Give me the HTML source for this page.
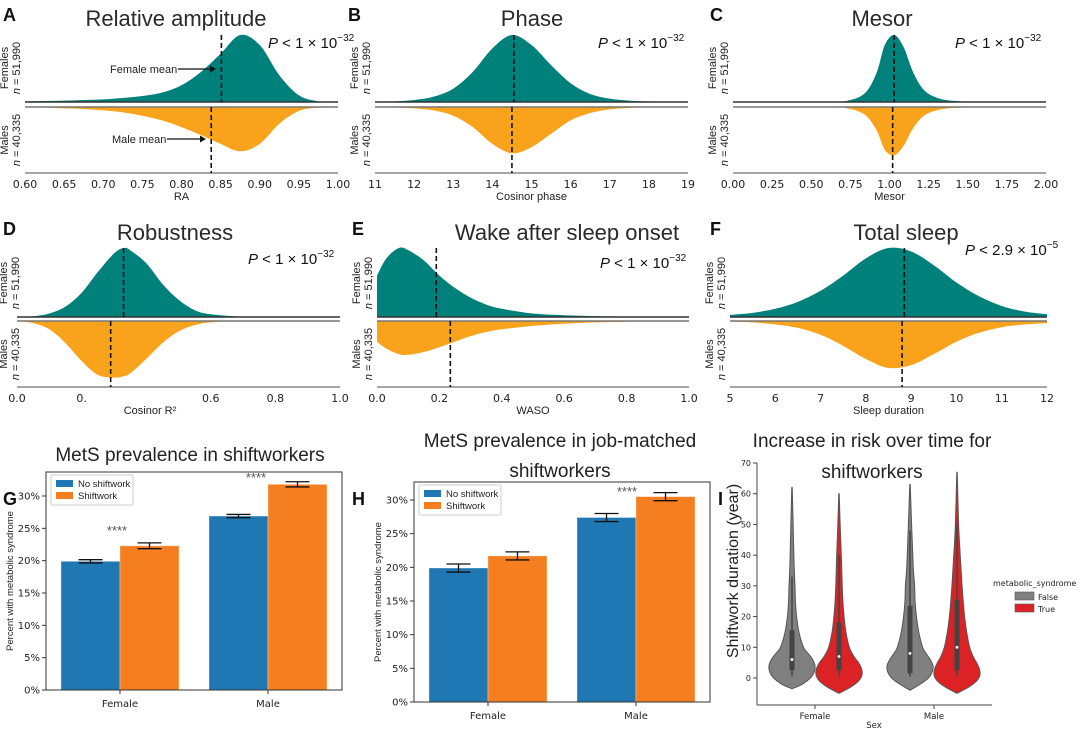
<!DOCTYPE html>
<html><head><meta charset="utf-8">
<style>
html,body{margin:0;padding:0;background:#fff;}
svg{display:block;font-family:"Liberation Sans","DejaVu Sans",sans-serif;}
</style></head>
<body>
<svg id="fig" width="1080" height="730" viewBox="0 0 1080 730" xmlns="http://www.w3.org/2000/svg"></svg>
<script>
// ---------- density data (x grid, female density, male density; relative to female peak) ----------
const aX=[0.60,0.625,0.65,0.675,0.70,0.725,0.75,0.775,0.80,0.825,0.85,0.875,0.90,0.925,0.95,0.975,1.0];
const aF=[0.01,0.015,0.02,0.03,0.04,0.06,0.09,0.14,0.25,0.45,0.72,1.0,0.85,0.4,0.1,0.01,0];
const aM=[0,0.01,0.02,0.03,0.05,0.08,0.13,0.2,0.3,0.42,0.55,0.66,0.55,0.25,0.06,0.01,0];
const aMeans=[0.851,0.838];
const bX=[11,11.5,12,12.5,13,13.5,14,14.5,15,15.5,16,16.5,17,17.5,18,18.5,19];
const bF=[0,0.01,0.03,0.08,0.2,0.45,0.8,1,0.85,0.55,0.28,0.12,0.05,0.02,0.01,0,0];
const bM=[0,0.01,0.02,0.05,0.13,0.3,0.55,0.69,0.6,0.4,0.2,0.09,0.035,0.015,0.005,0,0];
const bMeans=[14.55,14.5];
const cX=[0,0.6,0.75,0.85,0.92,0.97,1.03,1.09,1.15,1.22,1.32,1.45,1.6,2.0];
const cF=[0,0,0.03,0.15,0.45,0.85,1.0,0.82,0.45,0.18,0.05,0.01,0,0];
const cM=[0,0,0.03,0.13,0.36,0.64,0.72,0.58,0.32,0.13,0.04,0.01,0,0];
const cMeans=[1.03,1.02];
const dX=[0,0.05,0.1,0.15,0.2,0.25,0.3,0.33,0.35,0.4,0.45,0.5,0.55,0.6,0.7,0.8,1.0];
const dF=[0,0.01,0.05,0.15,0.35,0.65,0.92,1,0.97,0.78,0.48,0.25,0.1,0.04,0.005,0,0];
const dM=[0,0.03,0.12,0.32,0.58,0.78,0.82,0.8,0.76,0.55,0.32,0.15,0.06,0.02,0,0,0];
const dMeans=[0.33,0.29];
const eX=[0,0.03,0.07,0.1,0.15,0.2,0.25,0.3,0.35,0.4,0.5,0.6,0.7,0.8,1.0];
const eF=[0.6,0.85,1.0,0.97,0.82,0.6,0.42,0.28,0.18,0.12,0.05,0.025,0.012,0.006,0];
const eM=[0.3,0.4,0.48,0.49,0.45,0.38,0.3,0.22,0.16,0.12,0.07,0.04,0.02,0.01,0];
const eMeans=[0.19,0.235];
const fX=[5,5.5,6,6.5,7,7.5,8,8.5,9,9.5,10,10.5,11,11.5,12];
const fF=[0.03,0.06,0.12,0.22,0.38,0.6,0.85,1.0,0.95,0.75,0.5,0.3,0.16,0.08,0.04];
const fM=[0.01,0.02,0.05,0.1,0.2,0.36,0.55,0.68,0.64,0.48,0.3,0.17,0.09,0.05,0.03];
const fMeans=[8.85,8.8];

// ---------- bar data ----------
const barCats=["Female","Male"];
const gNo=[19.9,26.9], gShift=[22.3,31.8], gNoErr=[0.25,0.25], gShiftErr=[0.45,0.4];
const hNo=[19.9,27.4], hShift=[21.7,30.5], hNoErr=[0.6,0.6], hShiftErr=[0.6,0.6];
const pctTicks=[0,5,10,15,20,25,30];

// ---------- violin data ----------
const vNames=["female-false","female-true","male-false","male-true"];
const vYs=[
 [-3.5,-2,0,2,4,6,8,10,15,20,25,30,35,40,50,62],
 [-5,-3,-1,1,3,5,7,10,15,20,25,30,35,40,50,60],
 [-4,-2,0,2,4,6,8,10,15,20,25,30,35,40,50,63],
 [-5,-3,-1,1,3,5,7,10,15,20,25,30,35,40,50,67]];
const vW=[
 [0,0.45,0.8,0.97,1.0,0.9,0.7,0.5,0.3,0.2,0.15,0.13,0.1,0.08,0.05,0.01],
 [0,0.5,0.85,1,0.98,0.85,0.65,0.45,0.3,0.22,0.17,0.14,0.12,0.1,0.05,0.01],
 [0,0.45,0.8,0.97,1.0,0.88,0.7,0.55,0.38,0.28,0.22,0.2,0.15,0.12,0.07,0.01],
 [0,0.5,0.85,1,0.97,0.85,0.7,0.55,0.42,0.33,0.27,0.22,0.18,0.14,0.07,0.01]];
const vQ1=[2.5,2.5,1.5,2.5], vQ3=[15.5,18,23.5,25.5], vMed=[6,7,8,10], vWhisk=[33,40,48,50];
const vTicks=[0,10,20,30,40,50,60,70];

const NS="http://www.w3.org/2000/svg";
const svg=document.getElementById('fig');
function el(tag,attrs,parent,text){
  const e=document.createElementNS(NS,tag);
  for(const k in attrs)e.setAttribute(k,attrs[k]);
  if(text!==undefined)e.textContent=text;
  (parent||svg).appendChild(e);return e;
}
function txt(x,y,s,size,opts,name,parent){
  const o=Object.assign({x:x,y:y,'font-size':size,fill:'#222'},opts||{});
  const t=el('text',o,parent,s);
  
  
  return t;
}
function smooth(pts){
  let d=`M${pts[0][0]},${pts[0][1]}`;
  for(let i=0;i<pts.length-1;i++){
    const p0=pts[Math.max(0,i-1)],p1=pts[i],p2=pts[i+1],p3=pts[Math.min(pts.length-1,i+2)];
    const c1=[p1[0]+(p2[0]-p0[0])/6,p1[1]+(p2[1]-p0[1])/6];
    const c2=[p2[0]-(p3[0]-p1[0])/6,p2[1]-(p3[1]-p1[1])/6];
    d+=` C${c1[0]},${c1[1]} ${c2[0]},${c2[1]} ${p2[0]},${p2[1]}`;
  }
  return d;
}

function densityPanel(c){
  const g=el('g',{});
  
  
  const sx=v=>c.x0+(v-c.xmin)/(c.xmax-c.xmin)*(c.x1-c.x0);
  const fPts=c.X.map((v,i)=>[sx(v),c.baseF-c.F[i]*c.scale]);
  const mPts=c.X.map((v,i)=>[sx(v),c.baseM+c.M[i]*c.scale]);
  const fp=el('path',{d:smooth(fPts)+` L${sx(c.X[c.X.length-1])},${c.baseF} L${sx(c.X[0])},${c.baseF} Z`,fill:'#00807a'},g);
  
  
  const mp=el('path',{d:smooth(mPts)+` L${sx(c.X[c.X.length-1])},${c.baseM} L${sx(c.X[0])},${c.baseM} Z`,fill:'#f9a31d'},g);
  
  
  el('line',{x1:c.x0,x2:c.x1,y1:c.baseF,y2:c.baseF,stroke:'#333','stroke-width':1.6},g);
  el('line',{x1:c.x0,x2:c.x1,y1:c.baseM,y2:c.baseM,stroke:'#777','stroke-width':1.6},g);
  el('line',{x1:c.x0,x2:c.x1,y1:c.bottom,y2:c.bottom,stroke:'#888','stroke-width':1.6},g);
  const fm=el('line',{x1:sx(c.means[0]),x2:sx(c.means[0]),y1:c.baseF-c.scale,y2:c.baseF,stroke:'#111','stroke-width':1.6,'stroke-dasharray':'5,3'},g);
  
  
  const mm=el('line',{x1:sx(c.means[1]),x2:sx(c.means[1]),y1:c.baseM,y2:c.bottom,stroke:'#111','stroke-width':1.6,'stroke-dasharray':'5,3'},g);
  
  
  c.ticks.forEach((t,i)=>{
    if(c.tickLabels[i]==='')return;
    txt(sx(t),c.bottom+15,c.tickLabels[i],11,{'text-anchor':'middle','font-family':'DejaVu Sans, sans-serif'},'x-tick-label',g);
  });
  txt(c.xlabelX||(c.x0+c.x1)/2,c.bottom+27,c.xlabel,11,{'text-anchor':'middle'},'x-axis-title',g);
  txt(c.titleX,c.titleY,c.title,22,{'text-anchor':'middle',fill:'#2a2a2a'},'panel-title',g);
  txt(c.letterX,c.titleY-5,c.letter,18,{'font-weight':'bold',fill:'#111'},'panel-letter',g);
  const p=txt(c.pX,c.pY,'',15,{fill:'#111'},'p-value',g);
  el('tspan',{'font-style':'italic'},p,'P');
  el('tspan',{},p,' < '+c.pMant+' × 10');
  el('tspan',{dy:-7,'font-size':10},p,c.pExp);
  const lx=c.x0-(c.labelOff||17);
  const my=(c.baseM+c.bottom)/2;
  const fl=txt(0,0,'',11,{transform:`translate(${lx},${c.baseF-34}) rotate(-90)`,'text-anchor':'middle'},'females-label',g);
  el('tspan',{x:0,dy:0},fl,'Females');
  const t1=el('tspan',{x:0,dy:12},fl,'');
  el('tspan',{'font-style':'italic'},t1,'n');el('tspan',{},t1,' = '+c.nF);
  const ml=txt(0,0,'',11,{transform:`translate(${lx},${my}) rotate(-90)`,'text-anchor':'middle'},'males-label',g);
  el('tspan',{x:0,dy:0},ml,'Males');
  const t2=el('tspan',{x:0,dy:12},ml,'');
  el('tspan',{'font-style':'italic'},t2,'n');el('tspan',{},t2,' = '+c.nM);
  return {g,sx};
}
const rowTop={baseF:102,baseM:107,bottom:173,scale:67,titleY:26};
const rowBot={baseF:317,baseM:321,bottom:387,scale:69,titleY:240};
const A=densityPanel(Object.assign({},rowTop,{name:'panel-a-relative-amplitude',X:aX,F:aF,M:aM,means:aMeans,x0:25,x1:338,xmin:0.6,xmax:1.0,
 ticks:[0.6,0.65,0.7,0.75,0.8,0.85,0.9,0.95,1.0],tickLabels:['0.60','0.65','0.70','0.75','0.80','0.85','0.90','0.95','1.00'],
 xlabel:'RA',title:'Relative amplitude',titleX:176,letter:'A',letterX:3,pX:268,pY:48,pMant:'1',pExp:'−32',nF:'51,990',nM:'40,335'}));
(function(){
  const g=A.g;
  txt(110,73,'Female mean',11,{},'female-mean-annotation',g);
  el('line',{x1:178,x2:214,y1:69,y2:69,stroke:'#111','stroke-width':1.3},g);
  el('path',{d:'M216,69 l-6,-3.5 v7 z',fill:'#111'},g);
  txt(112,143,'Male mean',11,{},'male-mean-annotation',g);
  el('line',{x1:167,x2:204,y1:139,y2:139,stroke:'#111','stroke-width':1.3},g);
  el('path',{d:'M206,139 l-6,-3.5 v7 z',fill:'#111'},g);
})();
densityPanel(Object.assign({},rowTop,{name:'panel-b-phase',X:bX,F:bF,M:bM,means:bMeans,x0:375,x1:688,xmin:11,xmax:19,
 ticks:[11,12,13,14,15,16,17,18,19],tickLabels:['11','12','13','14','15','16','17','18','19'],
 xlabel:'Cosinor phase',title:'Phase',titleX:532,letter:'B',letterX:348,pX:598,pY:48,pMant:'1',pExp:'−32',nF:'51,990',nM:'40,335'}));
densityPanel(Object.assign({},rowTop,{name:'panel-c-mesor',X:cX,F:cF,M:cM,means:cMeans,x0:733,x1:1046,xmin:0,xmax:2,
 ticks:[0,0.25,0.5,0.75,1,1.25,1.5,1.75,2],tickLabels:['0.00','0.25','0.50','0.75','1.00','1.25','1.50','1.75','2.00'],
 xlabel:'Mesor',title:'Mesor',titleX:882,letter:'C',letterX:710,pX:955,pY:48,pMant:'1',pExp:'−32',nF:'51,990',nM:'40,335'}));
densityPanel(Object.assign({},rowBot,{name:'panel-d-robustness',X:dX,F:dF,M:dM,means:dMeans,x0:17,x1:340,xmin:0,xmax:1,labelOff:10,
 ticks:[0,0.2,0.4,0.6,0.8,1.0],tickLabels:['0.0','0.','','0.6','0.8','1.0'],
 xlabel:'Cosinor R²',xlabelX:150,title:'Robustness',titleX:175,letter:'D',letterX:3,pX:248,pY:264,pMant:'1',pExp:'−32',nF:'51,990',nM:'40,335'}));
densityPanel(Object.assign({},rowBot,{name:'panel-e-waso',X:eX,F:eF,M:eM,means:eMeans,x0:377,x1:689,xmin:0,xmax:1,
 ticks:[0,0.2,0.4,0.6,0.8,1.0],tickLabels:['0.0','0.2','0.4','0.6','0.8','1.0'],
 xlabel:'WASO',title:'Wake after sleep onset',titleX:567,letter:'E',letterX:352,pX:600,pY:268,pMant:'1',pExp:'−32',nF:'51,990',nM:'40,335'}));
densityPanel(Object.assign({},rowBot,{name:'panel-f-total-sleep',X:fX,F:fF,M:fM,means:fMeans,x0:730,x1:1047,xmin:5,xmax:12,
 ticks:[5,6,7,8,9,10,11,12],tickLabels:['5','6','7','8','9','10','11','12'],
 xlabel:'Sleep duration',title:'Total sleep',titleX:906,letter:'F',letterX:710,pX:965,pY:255,pMant:'2.9',pExp:'−5',nF:'51,990',nM:'40,335'}));

function barPanel(c){
  const g=el('g',{});
  
  
  const sy=v=>c.y0-(v/c.ymax)*(c.y0-c.yTop);
  const bw=c.bw;
  c.centers.forEach((cx,i)=>{
    [[c.no,c.noErr,'#1f77b4',-1,'bar-no-shiftwork'],[c.sh,c.shErr,'#f57f20',0,'bar-shiftwork']].forEach(s=>{
      const v=s[0][i],x=cx+s[3]*bw;
      const r=el('rect',{x:x,y:sy(v),width:bw,height:c.y0-sy(v),fill:s[2],stroke:'#fff','stroke-opacity':0.4,'stroke-width':0.8},g);
      
      
      const ex=x+bw/2,e=s[1][i];
      el('line',{x1:ex,x2:ex,y1:sy(v+e),y2:sy(v-e),stroke:'#111','stroke-width':1.3},g);
      el('line',{x1:ex-12,x2:ex+12,y1:sy(v+e),y2:sy(v+e),stroke:'#111','stroke-width':1.3},g);
      el('line',{x1:ex-12,x2:ex+12,y1:sy(v-e),y2:sy(v-e),stroke:'#111','stroke-width':1.3},g);
    });
    el('line',{x1:cx,x2:cx,y1:c.y0,y2:c.y0+4,stroke:'#333'},g);
    txt(cx,c.y0+17,barCats[i],10,{'text-anchor':'middle','font-family':'DejaVu Sans, sans-serif'},'x-tick-label',g);
  });
  pctTicks.forEach(t=>{
    el('line',{x1:c.xL-4,x2:c.xL,y1:sy(t),y2:sy(t),stroke:'#333'},g);
    txt(c.xL-6,sy(t)+3.5,t+'%',10,{'text-anchor':'end','font-family':'DejaVu Sans, sans-serif'},'y-tick-label',g);
  });
  el('rect',{x:c.xL,y:c.yBox,width:c.xR-c.xL,height:c.y0-c.yBox,fill:'none',stroke:'#333','stroke-width':1},g);
  txt(0,0,'Percent with metabolic syndrome',9.5,{transform:`translate(${c.xL-33},${(c.yBox+c.y0)/2}) rotate(-90)`,'text-anchor':'middle'},'y-axis-title',g);
  const lg=el('g',{},g);
  
  
  el('rect',{x:c.xL+5,y:c.yBox+3,width:82,height:30,fill:'#fff',stroke:'#ccc',rx:2},lg);
  el('rect',{x:c.xL+10,y:c.yBox+8,width:17,height:7,fill:'#1f77b4'},lg);
  el('rect',{x:c.xL+10,y:c.yBox+20,width:17,height:7,fill:'#f57f20'},lg);
  txt(c.xL+32,c.yBox+15,'No shiftwork',9.5,{},'legend-no-shiftwork',lg);
  txt(c.xL+32,c.yBox+27,'Shiftwork',9.5,{},'legend-shiftwork',lg);
  c.stars.forEach(s=>txt(s[0],s[1],'****',13,{'text-anchor':'middle',fill:'#555'},'significance-stars',g));
  c.titleLines.forEach((l,i)=>txt(c.titleX,c.titleY+i*30,l,19,{'text-anchor':'middle',fill:'#222'},'panel-title',g));
  txt(c.letterX,c.letterY,c.letter,18,{'font-weight':'bold',fill:'#111'},'panel-letter',g);
}
barPanel({name:'panel-g-mets-prevalence',no:gNo,sh:gShift,noErr:gNoErr,shErr:gShiftErr,xL:46,xR:342,yBox:472,y0:690,yTop:496,ymax:30,
 centers:[120,268],bw:59,stars:[[117,535],[256,482]],titleLines:['MetS prevalence in shiftworkers'],titleX:190,titleY:461,letter:'G',letterX:3,letterY:505});
barPanel({name:'panel-h-job-matched',no:hNo,sh:hShift,noErr:hNoErr,shErr:hShiftErr,xL:414,xR:710,yBox:482,y0:702,yTop:500,ymax:30,
 centers:[488,636],bw:59,stars:[[627,496]],titleLines:['MetS prevalence in  job-matched','shiftworkers'],titleX:560,titleY:447,letter:'H',letterX:352,letterY:505});

(function(){
  const g=el('g',{});
  
  
  const y0=678,y70=463;
  const sy=v=>y0-v/70*(y0-y70);
  const centers=[792,839,910,957], colors=['#808080','#dd2225','#808080','#dd2225'];
  const maxW=23;
  vNames.forEach((nm,i)=>{
    const cx=centers[i];
    const right=vYs[i].map((y,j)=>[cx+vW[i][j]*maxW,sy(y)]);
    const left=vYs[i].map((y,j)=>[cx-vW[i][j]*maxW,sy(y)]).reverse();
    const d=smooth(right)+' '+smooth(left).replace('M','L')+' Z';
    const p=el('path',{d:d,fill:colors[i],stroke:'#555','stroke-width':1},g);
    
    
    el('line',{x1:cx,x2:cx,y1:sy(vWhisk[i]),y2:sy(0.5),stroke:'#444','stroke-width':1.5},g);
    el('rect',{x:cx-2.5,y:sy(vQ3[i]),width:5,height:sy(vQ1[i])-sy(vQ3[i]),fill:'#444'},g);
    el('circle',{cx:cx,cy:sy(vMed[i]),r:1.4,fill:'#fff'},g);
  });
  el('line',{x1:757,x2:757,y1:463,y2:705,stroke:'#444','stroke-width':1},g);
  el('line',{x1:757,x2:992,y1:705,y2:705,stroke:'#444','stroke-width':1},g);
  vTicks.forEach(t=>{
    el('line',{x1:753,x2:757,y1:sy(t),y2:sy(t),stroke:'#444'},g);
    txt(751,sy(t)+3,String(t),8,{'text-anchor':'end','font-family':'DejaVu Sans, sans-serif'},'y-tick-label',g);
  });
  [['Female',815],['Male',934]].forEach(s=>{
    el('line',{x1:s[1],x2:s[1],y1:705,y2:709,stroke:'#444'},g);
    txt(s[1],719,s[0],8.5,{'text-anchor':'middle','font-family':'DejaVu Sans, sans-serif'},'x-tick-label',g);
  });
  txt(874,728,'Sex',8.5,{'text-anchor':'middle','font-family':'DejaVu Sans, sans-serif'},'x-axis-title',g);
  txt(0,0,'Shiftwork duration (year)',16,{transform:'translate(738,571) rotate(-90)','text-anchor':'middle'},'y-axis-title',g);
  txt(872,447,'Increase in risk over time for',19,{'text-anchor':'middle'},'panel-title',g);
  txt(872,478,'shiftworkers',19,{'text-anchor':'middle'},'panel-title-line2',g);
  txt(718,505,'I',18,{'font-weight':'bold',fill:'#111'},'panel-letter',g);
  const lg=el('g',{},g);
  
  
  txt(993,586,'metabolic_syndrome',8,{'font-family':'DejaVu Sans, sans-serif'},'legend-title',lg);
  el('rect',{x:1015,y:592,width:19,height:8,fill:'#808080',stroke:'#555','stroke-width':0.6},lg);
  el('rect',{x:1015,y:604,width:19,height:8,fill:'#dd2225',stroke:'#555','stroke-width':0.6},lg);
  txt(1038,600,'False',8,{'font-family':'DejaVu Sans, sans-serif'},'legend-false',lg);
  txt(1038,612,'True',8,{'font-family':'DejaVu Sans, sans-serif'},'legend-true',lg);
})();
</script>
</body></html>
